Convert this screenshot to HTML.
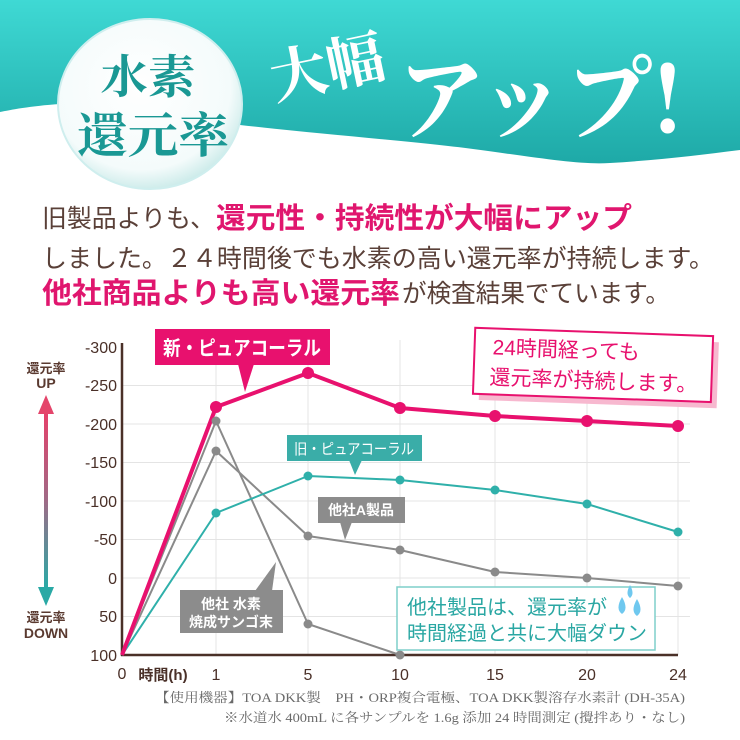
<!DOCTYPE html>
<html><head><meta charset="utf-8"><style>
html,body{margin:0;padding:0;background:#fff;}
svg{display:block;}
</style></head><body>
<svg width="740" height="740" viewBox="0 0 740 740" xmlns="http://www.w3.org/2000/svg">
<defs>
<linearGradient id="tg" x1="0" y1="0" x2="0" y2="1">
<stop offset="0" stop-color="#3fd9d4"/><stop offset="1" stop-color="#1ea9a7"/></linearGradient>
<linearGradient id="ag" x1="0" y1="0" x2="0" y2="1">
<stop offset="0" stop-color="#e6406a"/><stop offset="0.5" stop-color="#a06a86"/><stop offset="1" stop-color="#29aaa6"/></linearGradient>
<radialGradient id="cg" cx="0.45" cy="0.4" r="0.65">
<stop offset="0" stop-color="#ffffff"/><stop offset="0.75" stop-color="#f4fbfb"/><stop offset="1" stop-color="#bfe6e4"/></radialGradient>
</defs>
<!-- header -->
<path d="M0,0 H740 V150 C700,155 660,160 610,163 C580,165 540,158 473,149 C420,142 330,135 240,125 C180,115 100,100 60,104 C30,106 10,110 0,112 Z" fill="url(#tg)"/>
<ellipse cx="150" cy="104" rx="92" ry="85" fill="url(#cg)" stroke="#cfeeee" stroke-width="2"/>
<g font-family="'Noto Serif CJK SC','Noto Serif CJK JP',serif" font-weight="bold" fill="#1a9894">
<text x="148" y="93" font-size="46" text-anchor="middle" textLength="95" lengthAdjust="spacingAndGlyphs">水素</text>
<text x="153" y="152" font-size="48" text-anchor="middle" textLength="152" lengthAdjust="spacingAndGlyphs">還元率</text>
</g>
<g font-family="'Noto Serif CJK JP','Noto Serif CJK SC',serif" font-weight="bold" fill="#fff">
<text x="268" y="88" font-size="58" transform="rotate(-12 325 60)" textLength="115" lengthAdjust="spacingAndGlyphs">大幅</text>
<text x="398" y="132" font-size="92" textLength="285" lengthAdjust="spacingAndGlyphs">アップ!</text>
</g>
<!-- intro text -->
<g font-family="'Liberation Sans','Noto Sans CJK JP',sans-serif">
<text x="42" y="227" font-size="25" fill="#5a4038" textLength="173" lengthAdjust="spacingAndGlyphs">旧製品よりも、</text>
<text x="216" y="228" font-size="29" font-weight="bold" fill="#e0166e" textLength="416" lengthAdjust="spacingAndGlyphs">還元性・持続性が大幅にアップ</text>
<text x="42" y="267" font-size="25" fill="#5a4038" textLength="672" lengthAdjust="spacingAndGlyphs">しました。２４時間後でも水素の高い還元率が持続します。</text>
<text x="42" y="303" font-size="29" font-weight="bold" fill="#e0166e" textLength="358" lengthAdjust="spacingAndGlyphs">他社商品よりも高い還元率</text>
<text x="402" y="302" font-size="25" fill="#5a4038" textLength="268" lengthAdjust="spacingAndGlyphs">が検査結果でています。</text>
</g>
<!-- grid -->
<g stroke="#e4e4e4" stroke-width="1">
<line x1="122" y1="385.5" x2="690" y2="385.5"/><line x1="122" y1="424" x2="690" y2="424"/>
<line x1="122" y1="462.5" x2="690" y2="462.5"/><line x1="122" y1="501" x2="690" y2="501"/>
<line x1="122" y1="539.5" x2="690" y2="539.5"/><line x1="122" y1="578" x2="690" y2="578"/>
<line x1="122" y1="616.5" x2="690" y2="616.5"/>
<line x1="216" y1="340" x2="216" y2="655"/><line x1="308" y1="340" x2="308" y2="655"/>
<line x1="400" y1="340" x2="400" y2="655"/><line x1="495" y1="340" x2="495" y2="655"/>
<line x1="587" y1="340" x2="587" y2="655"/><line x1="678" y1="340" x2="678" y2="655"/>
</g>
<g stroke="#4a3028" stroke-width="2.5"><line x1="122" y1="343" x2="122" y2="656"/><line x1="121" y1="655" x2="678" y2="655"/></g>
<g font-family="'Liberation Sans','Noto Sans CJK JP',sans-serif" font-size="16" fill="#4a3028" text-anchor="end">
<text x="117" y="353">-300</text><text x="117" y="391">-250</text><text x="117" y="430">-200</text>
<text x="117" y="468">-150</text><text x="117" y="507">-100</text><text x="117" y="545">-50</text>
<text x="117" y="584">0</text><text x="117" y="622">50</text><text x="117" y="661">100</text>
</g>
<g font-family="'Liberation Sans','Noto Sans CJK JP',sans-serif" font-size="16" fill="#4a3028" text-anchor="middle">
<text x="122" y="679">0</text><text x="163" y="680" font-size="15" font-weight="bold">時間(h)</text>
<text x="216" y="680">1</text><text x="308" y="680">5</text><text x="400" y="680">10</text>
<text x="495" y="680">15</text><text x="587" y="680">20</text><text x="678" y="680">24</text>
</g>
<!-- left arrow -->
<rect x="44" y="412" width="4" height="176" fill="url(#ag)"/>
<polygon points="46,395 38,414 54,414" fill="#e4456b"/>
<polygon points="46,606 38,587 54,587" fill="#2aa9a5"/>
<g font-family="'Liberation Sans','Noto Sans CJK JP',sans-serif" font-weight="bold" fill="#5a3a30" text-anchor="middle" font-size="13">
<text x="46" y="373">還元率</text><text x="46" y="388" font-size="14">UP</text>
<text x="46" y="622">還元率</text><text x="46" y="638" font-size="14">DOWN</text>
</g>
<!-- series -->
<g fill="none" stroke-linejoin="round">
<polyline points="122,655 216,421 308,624 400,655" stroke="#8a8a8a" stroke-width="2"/>
<polyline points="122,655 216,451 308,536 400,550 495,572 587,578 678,586" stroke="#8a8a8a" stroke-width="2"/>
<polyline points="122,655 216,513 308,476 400,480 495,490 587,504 678,532" stroke="#2fb0aa" stroke-width="2"/>
<polyline points="122,655 216,407 308,373 400,408 495,416 587,421 678,426" stroke="#e8116e" stroke-width="4"/>
</g>
<g fill="#8a8a8a"><circle cx="216" cy="421" r="4.5"/><circle cx="308" cy="624" r="4.5"/><circle cx="400" cy="655" r="4.5"/>
<circle cx="216" cy="451" r="4.5"/><circle cx="308" cy="536" r="4.5"/><circle cx="400" cy="550" r="4.5"/><circle cx="495" cy="572" r="4.5"/><circle cx="587" cy="578" r="4.5"/><circle cx="678" cy="586" r="4.5"/></g>
<g fill="#2fb0aa"><circle cx="216" cy="513" r="4.5"/><circle cx="308" cy="476" r="4.5"/><circle cx="400" cy="480" r="4.5"/><circle cx="495" cy="490" r="4.5"/><circle cx="587" cy="504" r="4.5"/><circle cx="678" cy="532" r="4.5"/></g>
<g fill="#e8116e"><circle cx="216" cy="407" r="6"/><circle cx="308" cy="373" r="6"/><circle cx="400" cy="408" r="6"/><circle cx="495" cy="416" r="6"/><circle cx="587" cy="421" r="6"/><circle cx="678" cy="426" r="6"/></g>
<!-- labels -->
<g font-family="'Liberation Sans','Noto Sans CJK JP',sans-serif" font-weight="bold" fill="#fff" text-anchor="middle">
<rect x="155" y="329" width="175" height="36" fill="#e8116e"/>
<polygon points="238,364 254,364 245,392" fill="#e8116e"/>
<text x="242" y="355" font-size="20" textLength="158" lengthAdjust="spacingAndGlyphs">新・ピュアコーラル</text>
<rect x="287" y="435" width="135" height="26" fill="#3aada8"/>
<polygon points="349,460 362,460 355,475" fill="#3aada8"/>
<text x="354" y="454" font-size="15" font-weight="normal" textLength="120" lengthAdjust="spacingAndGlyphs">旧・ピュアコーラル</text>
<rect x="318" y="497" width="87" height="26" fill="#8c8c8c"/>
<polygon points="340,522 352,522 345,540" fill="#8c8c8c"/>
<text x="361" y="515" font-size="14">他社A製品</text>
<rect x="180" y="590" width="103" height="43" fill="#8c8c8c"/>
<polygon points="255,591 272,591 276,562" fill="#8c8c8c"/>
<text x="231" y="609" font-size="14">他社 水素</text>
<text x="231" y="627" font-size="14">焼成サンゴ末</text>
</g>
<g transform="rotate(2 595 366)">
<rect x="480" y="338" width="238" height="66" fill="#f7b8cf"/>
<rect x="474" y="332" width="238" height="66" fill="#fff" stroke="#e8116e" stroke-width="2"/>
<g font-family="'Liberation Sans','Noto Sans CJK JP',sans-serif" fill="#e8116e" font-size="21">
<text x="492" y="358">24時間経っても</text><text x="490" y="388">還元率が持続します。</text></g>
</g>
<rect x="397" y="587" width="258" height="63" fill="#fff" stroke="#7fcfca" stroke-width="1.5"/>
<g font-family="'Liberation Sans','Noto Sans CJK JP',sans-serif" fill="#2aa7a3" font-size="20">
<text x="407" y="614" textLength="200" lengthAdjust="spacingAndGlyphs">他社製品は、還元率が</text>
<text x="407" y="640" textLength="240" lengthAdjust="spacingAndGlyphs">時間経過と共に大幅ダウン</text></g>
<g fill="#6fc8ef"><path d="M630,585 q-5,9 0,13 q5,-4 0,-13z"/><path d="M622,597 q-7,12 0,17 q7,-5 0,-17z"/><path d="M637,599 q-7,12 0,17 q7,-5 0,-17z"/></g>
<!-- footer -->
<g font-family="'Liberation Serif','Noto Serif CJK JP',serif" font-size="13" fill="#6a6a6a">
<text x="155" y="702" textLength="530" lengthAdjust="spacingAndGlyphs">【使用機器】TOA DKK製　PH・ORP複合電極、TOA DKK製溶存水素計 (DH-35A)</text>
<text x="224" y="722" textLength="461" lengthAdjust="spacingAndGlyphs">※水道水 400mL に各サンプルを 1.6g 添加 24 時間測定 (攪拌あり・なし)</text>
</g>
</svg>
</body></html>
